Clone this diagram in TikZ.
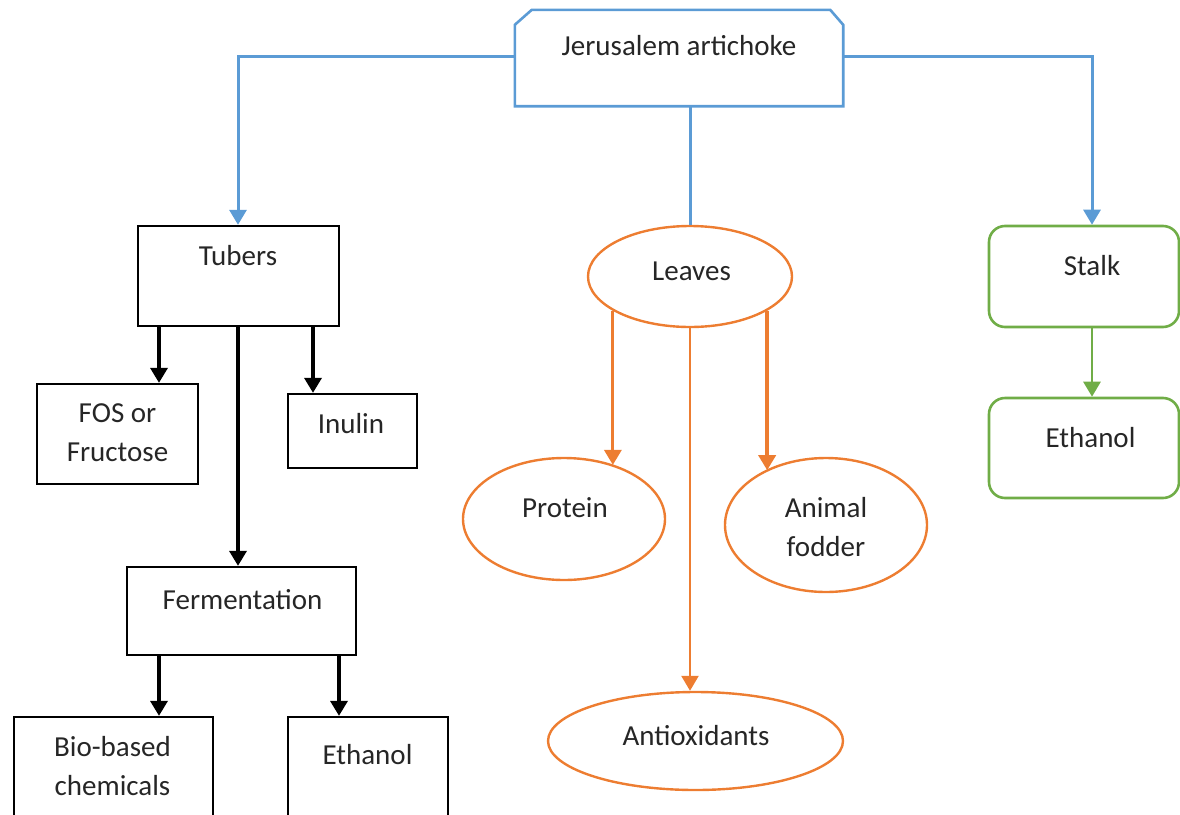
\documentclass[tikz,border=0pt]{standalone}
\usepackage{fontspec}
\setmainfont{Carlito}
\usetikzlibrary{shapes.geometric,arrows.meta}
\definecolor{jblue}{HTML}{5B9BD5}
\definecolor{jorange}{HTML}{ED7D31}
\definecolor{jgreen}{HTML}{70AD47}
\definecolor{jtext}{HTML}{262626}
\begin{document}
\begin{tikzpicture}[x=1pt,y=-1pt,
  lbl/.style={font=\fontsize{29}{39}\selectfont, text=jtext, inner sep=0pt, align=center},
  bbox/.style={draw=black, line width=2.3pt, rectangle, inner sep=0pt},
  oval/.style={draw=jorange, line width=2.4pt, ellipse, inner sep=0pt},
  gbox/.style={draw=jgreen, line width=2.6pt, rectangle, rounded corners=16pt, inner sep=0pt},
  tip/.style={-{Triangle[width=17pt,length=15pt]}},
  barr/.style={draw=black, line width=3.4pt, tip},
  bline/.style={draw=jblue, line width=3pt},
  oarr/.style={draw=jorange, line width=3.2pt, tip},
  garr/.style={draw=jgreen, line width=2.8pt, tip}
]
\useasboundingbox (0,0) rectangle (1180,814);

% top node (clipped top corners)
\node[rectangle, minimum width=328, minimum height=96, inner sep=0pt] (top) at (679,58) {};
\draw[draw=jblue, line width=2.6pt, line join=miter]
  (top.south west) -- ([yshift=-15pt]top.north west) -- ([xshift=17pt]top.north west)
  -- ([xshift=-13pt]top.north east) -- ([yshift=-15pt]top.north east)
  -- (top.south east) -- cycle;
\node[lbl, anchor=base] (topt) at (679,55) {Jerusalem artichoke};

% tubers branch
\node[bbox, minimum width=201, minimum height=100] (tubers) at (238.5,276) {};
\node[lbl, anchor=base] (tubt) at (238,265) {Tubers};
\node[bbox, minimum width=161, minimum height=100] (fos) at (117.5,434) {};
\node[lbl] (fost) at (117.5,433) {FOS or\\Fructose};
\node[bbox, minimum width=129, minimum height=74] (inulin) at (352.5,431) {};
\node[lbl, anchor=base] (inut) at (351,433) {Inulin};
\node[bbox, minimum width=229, minimum height=88] (ferm) at (241.5,611) {};
\node[lbl, anchor=base] (fermt) at (242.5,609) {Fermentation};
\node[bbox, minimum width=199, minimum height=110] (bio) at (113.5,772) {};
\node[lbl] (biot) at (112.5,766) {Bio-based\\chemicals};
\node[bbox, minimum width=160, minimum height=110] (eth) at (368,772) {};
\node[lbl, anchor=base] (etht) at (367.5,764) {Ethanol};

% leaves branch
\node[oval, minimum width=204, minimum height=101] (leaves) at (690,276.5) {};
\node[lbl, anchor=base] (leat) at (691.5,280) {Leaves};
\node[oval, minimum width=202, minimum height=122] (protein) at (564,519) {};
\node[lbl, anchor=base] (prot) at (565,517) {Protein};
\node[oval, minimum width=202, minimum height=134] (fodder) at (826,525) {};
\node[lbl] (fodt) at (826,527) {Animal\\fodder};
\node[oval, minimum width=295, minimum height=98] (antiox) at (695.5,741) {};
\node[lbl, anchor=base] (antt) at (696,745) {Antioxidants};

% stalk branch
\node[gbox, minimum width=190, minimum height=101] (stalk) at (1084,276.5) {};
\node[lbl, anchor=base] (stalkt) at (1092,275) {Stalk};
\node[gbox, minimum width=190, minimum height=100] (eth3) at (1084,448) {};
\node[lbl, anchor=base] (eth3t) at (1090.5,447) {Ethanol};

% blue connectors
\draw[bline, tip] ([yshift=2pt]top.west) -| (tubers.north -| tubt);
\draw[bline, tip] ([yshift=2pt]top.east) -| (stalk.north -| stalkt);
\draw[bline] (top.south -| leaves.north) -- (leaves.north);

% black connectors
\draw[barr] (tubers.south -| 159,0) -- (fos.north -| 159,0);
\draw[barr] (tubers.south -| tubt) -- (ferm.north -| tubt);
\draw[barr] (tubers.south -| 313,0) -- (inulin.north -| 313,0);
\draw[barr] (ferm.south -| 159,0) -- (bio.north -| 159,0);
\draw[barr] (ferm.south -| 339,0) -- (eth.north -| 339,0);

% orange connectors
\draw[oarr] (leaves.-156.1) -- (leaves.-156.1 |- protein.47.5);
\draw[oarr, line width=3.6pt] (leaves.-24.5) -- (leaves.-24.5 |- fodder.138.8);
\draw[oarr, line width=2.4pt] (leaves.south) -- (leaves.south |- antiox.north);

% green connector
\draw[garr] (stalk.south -| stalkt) -- (eth3.north -| stalkt);
\end{tikzpicture}
\end{document}
